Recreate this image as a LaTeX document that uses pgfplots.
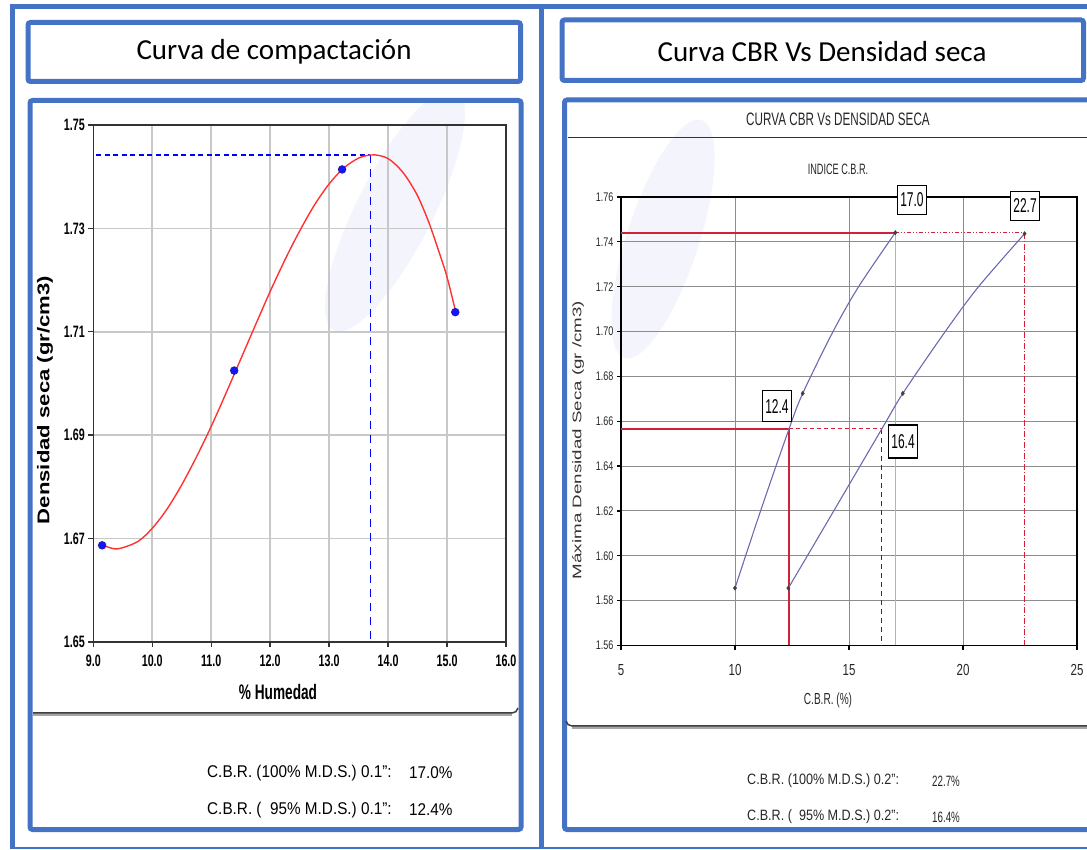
\documentclass[border=0pt]{standalone}
\usepackage{pgfplots}
\pgfplotsset{compat=1.18}
\usepackage{fontspec}
\setmainfont{Liberation Sans}
\newfontfamily\calib{Carlito}
\newfontfamily\nb[FakeStretch=0.65]{Liberation Sans}
\newfontfamily\nr[FakeStretch=0.72]{Liberation Sans}
\definecolor{frame}{HTML}{4472C4}
\definecolor{crim}{HTML}{D0203A}
\definecolor{cblue}{HTML}{6A6AAE}
\definecolor{gridc}{HTML}{C8C8C8}
\definecolor{wm}{HTML}{F4F4FC}
\begin{document}
\begin{tikzpicture}[x=1pt,y=1pt]
\path[use as bounding box] (0,0) rectangle (1087,849);
% watermarks
\begin{scope}
\clip (33,140) rectangle (517,746);
\fill[wm, rotate around={63:(395,639)}] (395,639) ellipse (135 and 38);
\end{scope}
\begin{scope}
\clip (568,130) rectangle (1085,746);
\fill[wm, rotate around={72:(663,610)}] (663,610) ellipse (125 and 36);
\end{scope}
% ---------------- left chart ----------------
\begin{axis}[
  at={(93.3pt,207pt)}, anchor=south west, scale only axis,
  width=412.7pt, height=517pt,
  xmin=9, xmax=16, ymin=1.65, ymax=1.75,
  xtick={9,10,11,12,13,14,15,16},
  ytick={1.65,1.67,1.69,1.71,1.73,1.75},
  tick pos=left,
  grid=major, major grid style={color=gridc, line width=1.6pt},
  axis line style={line width=1.6pt, color=black!80},
  tick align=outside, major tick length=5pt,
  tick style={line width=1.4pt, color=black!80},
  /pgf/number format/assume math mode=true,
  xticklabel style={font=\nb\bfseries\fontsize{16.5}{17}\selectfont, yshift=-4pt,
    /pgf/number format/fixed, /pgf/number format/fixed zerofill,
    /pgf/number format/precision=1},
  yticklabel style={font=\nb\bfseries\fontsize{16.5}{17}\selectfont,
    /pgf/number format/fixed, /pgf/number format/fixed zerofill,
    /pgf/number format/precision=2},
  clip=false,
]
\addplot[blue, line width=2pt, dash pattern=on 5pt off 3.5pt] coordinates {(9.05,1.7442) (13.7,1.7442)};
\addplot[blue, line width=1.3pt, dash pattern=on 8pt off 6pt] coordinates {(13.7,1.7442) (13.7,1.6505)};
\addplot[color={rgb,255:red,255;green,50;blue,50}, line width=1.4pt, smooth] coordinates {
(9.15,1.6688) (9.4,1.6680) (9.75,1.6694) (10.0,1.6720) (10.25,1.6757) (10.5,1.6804)
(10.75,1.6858) (11.0,1.6917) (11.25,1.6981) (11.5,1.7047) (11.75,1.7113) (12.0,1.7178)
(12.25,1.7239) (12.5,1.7295) (12.75,1.7345) (13.0,1.7386) (13.25,1.7417) (13.5,1.7436)
(13.7,1.7442) (13.85,1.7441) (14.0,1.7435) (14.15,1.7421) (14.3,1.7401) (14.5,1.7363)
(14.7,1.7309) (14.9,1.7242) (15.0,1.7206) (15.14,1.7142)};
\addplot[only marks, mark=*, mark size=3.8pt, mark options={fill={rgb,255:red,20;green,20;blue,255}, draw={rgb,255:red,30;green,30;blue,170}, line width=0.8pt}] coordinates {
(9.15,1.6687) (11.39,1.7025) (13.22,1.7414) (15.14,1.7138)};
\end{axis}
% ---------------- right chart ----------------
\begin{axis}[
  at={(621pt,203.5pt)}, anchor=south west, scale only axis,
  width=456pt, height=448.5pt,
  xmin=5, xmax=25, ymin=1.56, ymax=1.76,
  xtick={5,10,15,20,25},
  ytick={1.56,1.58,1.60,1.62,1.64,1.66,1.68,1.70,1.72,1.74,1.76},
  tick pos=left,
  grid=major, major grid style={color=black!45, line width=0.9pt},
  axis line style={line width=1.8pt, color=black},
  tick align=outside, major tick length=4pt,
  tick style={line width=1.2pt, color=black},
  /pgf/number format/assume math mode=true,
  xticklabel style={font=\nr\fontsize{16}{16}\selectfont, color=black!85, yshift=-11pt},
  yticklabel style={font=\nr\fontsize{12.5}{13}\selectfont, color=black!85,
    /pgf/number format/fixed, /pgf/number format/fixed zerofill,
    /pgf/number format/precision=2},
  clip=false,
]
% red reference lines
\addplot[crim!45, line width=1.5pt] coordinates {(17.03,1.7441) (17.03,1.56)};
\addplot[crim, line width=1pt, dash pattern=on 4pt off 2pt on 1pt off 2pt on 1pt off 2pt] coordinates {(17.03,1.7441) (22.70,1.7441)};
\addplot[crim, line width=1pt, dash pattern=on 6pt off 2pt on 1pt off 2pt] coordinates {(22.70,1.7441) (22.70,1.56)};
\addplot[crim, line width=2pt] coordinates {(5,1.7441) (17.03,1.7441)};
\addplot[crim, line width=1pt, dash pattern=on 4pt off 3pt] coordinates {(12.37,1.6566) (16.44,1.6566)};
\addplot[black!80, line width=1pt, dash pattern=on 5pt off 4pt] coordinates {(16.44,1.6566) (16.44,1.56)};
\addplot[crim, line width=2pt] coordinates {(5,1.6566) (12.37,1.6566) (12.37,1.56)};
% CBR curves
\addplot[cblue, line width=1.1pt, smooth] coordinates {
(10.0,1.5856) (11.12,1.62) (12.37,1.6566) (12.97,1.6724) (14.3,1.70) (15.42,1.72) (17.03,1.7441)};
\addplot[cblue, line width=1.1pt, smooth] coordinates {
(12.34,1.5856) (14.33,1.62) (16.44,1.6566) (17.36,1.6724) (19.22,1.70) (20.68,1.72) (22.70,1.7436)};
\addplot[only marks, mark=diamond*, mark size=2.2pt, mark options={fill=black!75, draw=black!75}] coordinates {
(10.0,1.5856) (12.97,1.6724) (17.03,1.7441) (12.34,1.5856) (17.36,1.6724) (22.70,1.7436)};
% value boxes
\node[draw=black, line width=1.4pt, fill=white, minimum width=29pt, minimum height=29pt, inner sep=0pt] at (axis cs:17.76,1.7587) {\scalebox{0.6}[1]{\fontsize{20}{20}\selectfont 17.0}};
\node[draw=black, line width=1.4pt, fill=white, minimum width=29pt, minimum height=29pt, inner sep=0pt] at (axis cs:22.72,1.7560) {\scalebox{0.6}[1]{\fontsize{20}{20}\selectfont 22.7}};
\node[draw=black, line width=1.4pt, fill=white, minimum width=29pt, minimum height=31pt, inner sep=0pt] at (axis cs:11.84,1.6667) {\scalebox{0.6}[1]{\fontsize{20}{20}\selectfont 12.4}};
\node[draw=black, line width=1.4pt, fill=white, minimum width=29pt, minimum height=33pt, inner sep=0pt] at (axis cs:17.37,1.6510) {\scalebox{0.6}[1]{\fontsize{20}{20}\selectfont 16.4}};
\end{axis}
% ---------------- frames ----------------
\draw[frame, line width=5pt] (10,842) -- (1095,842);
\draw[frame, line width=5pt] (12.5,844.5) -- (12.5,0);
\draw[frame, line width=2pt] (10,1.5) -- (1095,1.5);
\draw[frame, line width=5pt] (541.5,842) -- (541.5,0);
\draw[frame, line width=5pt, rounded corners=2.5pt] (28,826.5) rectangle (520.5,767.5);
\draw[frame, line width=5pt, rounded corners=2.5pt] (562,829) rectangle (1083.5,768.5);
\draw[frame, line width=5pt, rounded corners=2.5pt] (30,748.5) rectangle (521,19.5);
\draw[frame, line width=5pt, rounded corners=2.5pt] (564.5,749) rectangle (1095,19.5);
% image edge lines
\draw[black!35, line width=3pt] (33,134.5) -- (512,134.5);
\draw[black!75, line width=1.5pt] (33,136) -- (512,136) to[out=0,in=-100] (518,141);
\draw[black!35, line width=3pt] (572,121.5) -- (1087,121.5);
\draw[black!75, line width=1.5pt] (566,128) to[out=-80,in=180] (572,123) -- (1087,123);
\draw[black!80, line width=1.5pt] (568,711.5) -- (1087,711.5);
% ---------------- texts ----------------
\node[font=\calib\fontsize{29}{30}\selectfont] at (274,797) {Curva de compactación};
\node[font=\calib\fontsize{29}{30}\selectfont] at (822,797) {Curva CBR Vs Densidad seca};
\node[font=\nb\bfseries\fontsize{21}{21}\selectfont] at (278,157) {\% Humedad};
\node[rotate=90, font=\bfseries\fontsize{17}{17}\selectfont] at (45,449) {\scalebox{1.3}[1]{Densidad seca (gr/cm3)}};
\node[text=black!85] at (838,730) {\scalebox{0.65}[1]{\fontsize{18}{18}\selectfont CURVA CBR Vs DENSIDAD SECA}};
\node[text=black!85] at (838,680) {\scalebox{0.61}[1]{\fontsize{15}{15}\selectfont INDICE C.B.R.}};
\node[text=black!85] at (828,149) {\scalebox{0.63}[1]{\fontsize{16}{16}\selectfont C.B.R. (\%)}};
\node[rotate=90, text=black!80] at (578,409) {\scalebox{1.5}[1]{\fontsize{12.5}{13}\selectfont Máxima Densidad Seca (gr /cm3)}};
% bottom texts
\node[anchor=west, inner sep=0pt] at (207,76) {\scalebox{0.9}[1]{\fontsize{17}{17}\selectfont C.B.R. (100\% M.D.S.) 0.1":}};
\node[anchor=west, inner sep=0pt] at (409,76) {\scalebox{0.9}[1]{\fontsize{17}{17}\selectfont 17.0\%}};
\node[anchor=west, inner sep=0pt] at (207,39) {\scalebox{0.9}[1]{\fontsize{17}{17}\selectfont C.B.R. (\hphantom{1}95\% M.D.S.) 0.1":}};
\node[anchor=west, inner sep=0pt] at (409,39) {\scalebox{0.9}[1]{\fontsize{17}{17}\selectfont 12.4\%}};
\node[anchor=west, inner sep=0pt, text=black!85] at (747,68) {\scalebox{0.84}[1]{\fontsize{15}{15}\selectfont C.B.R. (100\% M.D.S.) 0.2":}};
\node[anchor=west, inner sep=0pt, text=black!85] at (932,68) {\scalebox{0.65}[1]{\fontsize{15}{15}\selectfont 22.7\%}};
\node[anchor=west, inner sep=0pt, text=black!85] at (747,32) {\scalebox{0.84}[1]{\fontsize{15}{15}\selectfont C.B.R. (\hphantom{1}95\% M.D.S.) 0.2":}};
\node[anchor=west, inner sep=0pt, text=black!85] at (932,32) {\scalebox{0.65}[1]{\fontsize{15}{15}\selectfont 16.4\%}};
\end{tikzpicture}
\end{document}
